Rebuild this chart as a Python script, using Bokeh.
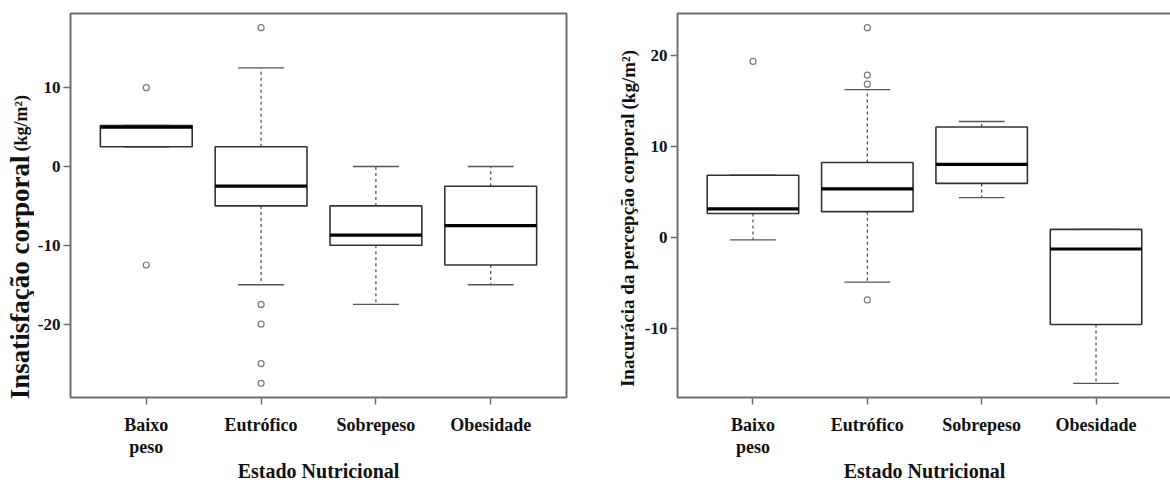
from math import pi
from bokeh.plotting import figure
from bokeh.models import Range1d, FixedTicker, ColumnDataSource, PrintfTickFormatter
from bokeh.core.properties import value
from bokeh.layouts import row
from bokeh.embed import file_html
from bokeh.resources import INLINE

# ---------------- data ----------------
categories = ["Baixo\npeso", "Eutrófico", "Sobrepeso", "Obesidade"]
positions = [1, 2, 3, 4]

# Panel 1: Insatisfação corporal (kg/m²)
ins_q1 = [2.5, -5.0, -10.0, -12.5]
ins_median = [5.0, -2.5, -8.7, -7.5]
ins_q3 = [5.2, 2.5, -5.0, -2.5]
ins_low = [2.5, -15.0, -17.5, -15.0]
ins_high = [5.2, 12.5, 0.0, 0.0]
ins_out_pos = [1, 1, 2, 2, 2, 2, 2]
ins_out_val = [10.0, -12.5, 17.6, -17.5, -20.0, -25.0, -27.5]
ins_yticks = [-20, -10, 0, 10]

# Panel 2: Inacurácia da percepção corporal (kg/m²)
ina_q1 = [2.6, 2.8, 5.9, -9.6]
ina_median = [3.1, 5.3, 8.0, -1.3]
ina_q3 = [6.8, 8.2, 12.1, 0.85]
ina_low = [-0.3, -4.95, 4.35, -16.05]
ina_high = [6.8, 16.2, 12.7, 0.85]
ina_out_pos = [1, 2, 2, 2, 2]
ina_out_val = [19.3, 23.0, 17.8, 16.8, -6.9]
ina_yticks = [-10, 0, 10, 20]

x_title = "Estado Nutricional"
y1_title, y1_unit = "Insatisfação corporal", "(kg/m²)"
y2_title, y2_unit = "Inacurácia da percepção corporal", "(kg/m²)"

FONT = "Liberation Serif"
FRAME_COL = "#6e6e6e"
TXT = "#111111"
BOX_W = 0.8
CAP_W = 0.4
H = 482


def label_strip(width, mid_x, junction_y, main, unit, main_size, unit_size):
    """Narrow figure carrying the rotated y-axis title (main text + smaller unit)."""
    s = figure(frame_width=width, frame_height=H,
               x_range=Range1d(0, width), y_range=Range1d(0, H),
               x_axis_location=None, y_axis_location=None,
               min_border_left=0, min_border_right=0,
               min_border_top=0, min_border_bottom=0,
               output_backend="svg", toolbar_location=None)
    s.grid.visible = False
    s.outline_line_color = None
    jy = H - junction_y
    s.text(x=[mid_x], y=[jy], text=[main], angle=pi / 2, text_align="right",
           text_baseline="middle", text_font=value(FONT),
           text_font_style="bold", text_font_size=main_size, text_color=TXT)
    s.text(x=[mid_x + 1], y=[jy + 4], text=[unit], angle=pi / 2, text_align="left",
           text_baseline="middle", text_font=value(FONT),
           text_font_style="bold", text_font_size=unit_size, text_color=TXT)
    return s


def panel(q1, med, q3, low, high, out_pos, out_val, yticks,
          border_left, frame_width, border_right):
    lo_all = min(low + out_val)
    hi_all = max(high + out_val)
    pad = 0.04 * (hi_all - lo_all)
    p = figure(frame_width=frame_width, frame_height=384,
               x_range=Range1d(0.5 - 0.16, 4.5 + 0.16),
               y_range=Range1d(lo_all - pad, hi_all + pad),
               output_backend="svg", toolbar_location=None,
               min_border_left=border_left, min_border_right=border_right,
               min_border_top=13, min_border_bottom=85)
    p.grid.visible = False
    p.outline_line_color = FRAME_COL
    p.outline_line_width = 2

    src = ColumnDataSource(dict(
        x=positions, q1=q1, med=med, q3=q3, low=low, high=high,
        xl=[x - BOX_W / 2 for x in positions], xr=[x + BOX_W / 2 for x in positions],
        cl=[x - CAP_W / 2 for x in positions], cr=[x + CAP_W / 2 for x in positions],
    ))
    # whiskers (dashed)
    p.segment(x0="x", y0="q3", x1="x", y1="high", source=src,
              line_color="#555555", line_width=1.3, line_dash="3 3")
    p.segment(x0="x", y0="q1", x1="x", y1="low", source=src,
              line_color="#555555", line_width=1.3, line_dash="3 3")
    # caps
    p.segment(x0="cl", y0="high", x1="cr", y1="high", source=src,
              line_color="#555555", line_width=1.3)
    p.segment(x0="cl", y0="low", x1="cr", y1="low", source=src,
              line_color="#555555", line_width=1.3)
    # boxes
    p.quad(left="xl", right="xr", bottom="q1", top="q3", source=src,
           fill_color="white", line_color="#333333", line_width=1.6)
    # medians
    p.segment(x0="xl", y0="med", x1="xr", y1="med", source=src,
              line_color="black", line_width=3.2)
    # outliers
    p.scatter(out_pos, out_val, marker="circle", size=6, fill_color=None,
              line_color="#7a7a7a", line_width=1.2)

    for ax in (p.xaxis[0], p.yaxis[0]):
        ax.axis_line_color = None
        ax.major_tick_line_color = FRAME_COL
        ax.major_tick_line_width = 1.5
        ax.major_tick_out = 7
        ax.major_tick_in = 0
        ax.minor_tick_line_color = None
        ax.major_label_text_font = FONT
        ax.major_label_text_font_style = "bold"
        ax.major_label_text_color = TXT

    p.yaxis.ticker = FixedTicker(ticks=yticks)
    p.yaxis.formatter = PrintfTickFormatter(format="%d")
    p.yaxis.major_label_text_font_size = "17px"
    p.yaxis.major_label_standoff = 3

    p.xaxis.ticker = FixedTicker(ticks=positions)
    p.xaxis.major_label_overrides = {pos: lab for pos, lab in zip(positions, categories)}
    p.xaxis.major_label_text_font_size = "18px"
    p.xaxis.major_label_text_line_height = 1.1
    p.xaxis.major_label_standoff = 10
    p.xaxis.axis_label = x_title
    p.xaxis.axis_label_text_font = FONT
    p.xaxis.axis_label_text_font_style = "bold"
    p.xaxis.axis_label_text_font_size = "20px"
    p.xaxis.axis_label_text_color = TXT
    p.xaxis.axis_label_standoff = 0
    return p


s1 = label_strip(34, 19, 142, y1_title, y1_unit, "27px", "18px")
p1 = panel(ins_q1, ins_median, ins_q3, ins_low, ins_high, ins_out_pos, ins_out_val,
           ins_yticks, 33, 496, 15)
s2 = label_strip(60, 46, 100, y2_title, y2_unit, "19px", "19px")
p2 = panel(ina_q1, ina_median, ina_q3, ina_low, ina_high, ina_out_pos, ina_out_val,
           ina_yticks, 34, 494, 3)

layout = row(s1, p1, s2, p2)
open("out.html", "w").write(file_html(layout, INLINE))
